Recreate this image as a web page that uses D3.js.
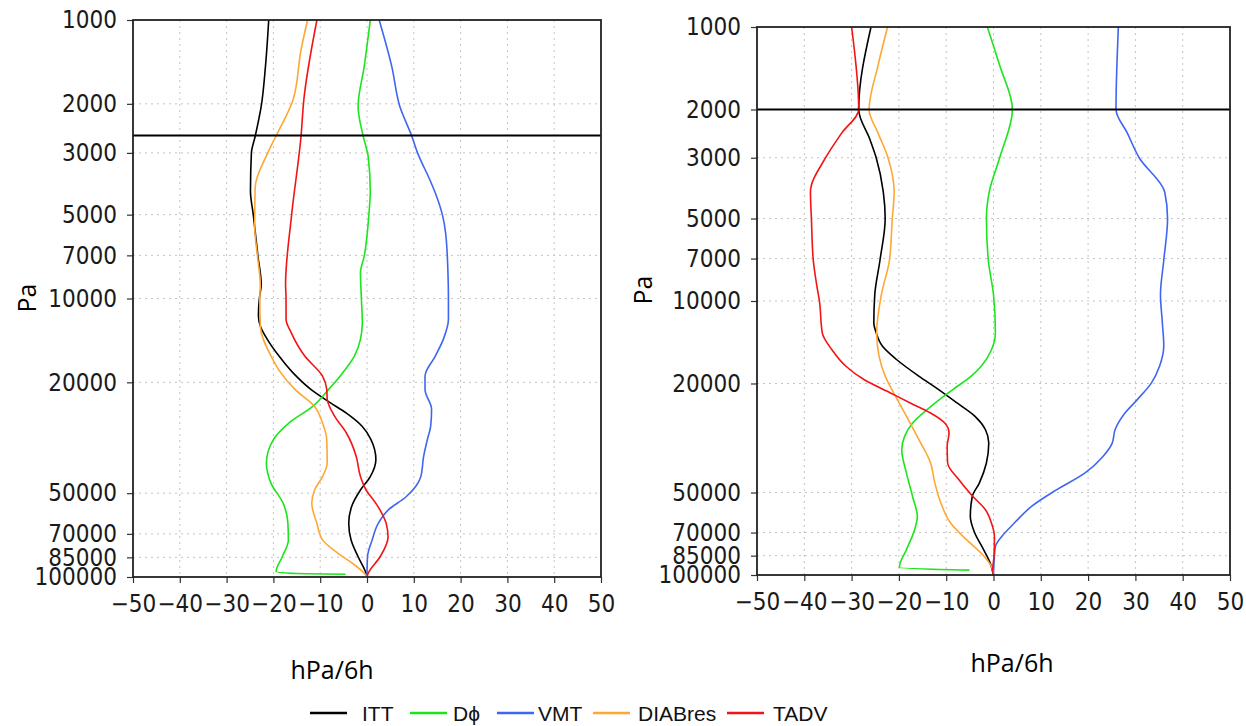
<!DOCTYPE html>
<html>
<head>
<meta charset="utf-8">
<script src="https://cdn.jsdelivr.net/npm/d3@7"></script>
<style>
  body { margin: 0; background: #fff; }
  svg { display: block; }
</style>
</head>
<body>
<svg id="chart" width="1246" height="726"></svg>
<script>
// axis ticks
const xTicks = [-50, -40, -30, -20, -10, 0, 10, 20, 30, 40, 50];
const yTicks = [1000, 2000, 3000, 5000, 7000, 10000, 20000, 50000, 70000, 85000, 100000];

const seriesNames = ["ITT", "D\u03D5", "VMT", "DIABres", "TADV"];
const seriesColors = ["#000000", "#1be61b", "#3f66f2", "#ffa733", "#f21414"];

// left panel profiles: [pressure (Pa), tendency (hPa/6h)]
const leftITT = [[1000,-21],[1470,-21.7],[2040,-22.6],[2620,-23.9],[3000,-24.7],[4120,-24.9],[5000,-24.3],
  [7050,-23.3],[8900,-22.6],[10000,-23],[11500,-23.2],[12550,-22.8],[14020,-21.3],[16100,-18.8],[18500,-15.8],
  [21200,-12],[23700,-7.8],[25800,-4.4],[28800,-1],[32100,0.85],[37900,1.9],[43600,0.7],[48700,-1.4],
  [55900,-3.3],[64200,-3.9],[73600,-3.4],[84600,-1.9],[97000,-0.2],[100000,0]];
const leftDphi = [[1000,0.7],[1470,-0.6],[2040,-1.9],[2620,-0.8],[3090,0.25],[4120,0.7],[5000,0.4],[7050,-0.6],
  [8100,-1.4],[10000,-1.2],[12200,-1],[14020,-1.4],[16100,-2.7],[18500,-5.2],[21200,-8.2],[24400,-11.6],
  [28000,-16.7],[32100,-20],[39000,-21.5],[46100,-20.5],[54400,-17.9],[64200,-16.9],[73600,-16.8],
  [84600,-18.1],[95500,-19.4],[97200,-15],[97700,-4.6]];
const leftVMT = [[1000,2.6],[1470,5.3],[2040,7],[2620,9.6],[3000,10.8],[3740,13.4],[4180,14.6],[5000,16.1],
  [5820,16.8],[8100,17.3],[10000,17.4],[11870,17.4],[14020,16.3],[16100,14.6],[19000,12.4],[21200,12.4],
  [25000,13.8],[28800,13.6],[32100,12.9],[36900,12.1],[43600,11.5],[47300,10.4],[51600,8.3],[57500,4.5],
  [64200,2.4],[73600,1.1],[84600,0.1],[100000,0]];
const leftDIABres = [[1000,-12.7],[1280,-14.1],[1935,-15.8],[2620,-19.5],[3000,-21.2],[4000,-23.9],[5500,-24],
  [7050,-23.4],[8900,-22.8],[10000,-22.9],[12550,-22.8],[16100,-20.5],[18500,-18.4],[21200,-15.4],
  [24400,-11.2],[28000,-9.5],[32100,-8.6],[39000,-8.5],[43600,-9.5],[48700,-11.2],[54400,-11.8],
  [64200,-10.7],[73600,-9.5],[82400,-6.1],[89300,-3.1],[97000,-0.6],[100000,0]];
const leftTADV = [[1000,-10.7],[1935,-13.5],[2620,-14.1],[5000,-16.1],[8900,-17.4],[10000,-17.3],[11870,-17.3],
  [13260,-16.2],[16100,-13.3],[19000,-9.5],[21200,-8.6],[23000,-8.5],[26500,-6.9],[30400,-4.4],[36900,-2.3],
  [43600,-1.4],[48700,-0.2],[54400,1.9],[64200,4.1],[71800,4.5],[84600,2.8],[97000,0.25],[100000,0]];

// right panel profiles
const rightITT = [[1000,-25.9],[2000,-28.5],[2580,-26.1],[3000,-24.8],[4000,-23.3],[5000,-22.9],[7100,-24],
  [9470,-25.1],[12000,-25.3],[13060,-24.8],[14600,-23.5],[16350,-20.5],[18800,-15.8],[21050,-11.6],
  [23550,-7.7],[26350,-3.9],[29500,-1.7],[33000,-1],[39000,-1.5],[46200,-3],[51800,-4.5],[61200,-4.9],
  [70000,-4],[80800,-2.1],[90500,-0.7],[100000,0]];
const rightDphi = [[1000,-1.3],[1380,1.3],[2000,4],[3000,1.3],[4000,-0.9],[5000,-1.5],[7100,-1.1],[9470,0],
  [13060,0.4],[15030,-0.4],[17300,-2.6],[18800,-4.7],[21050,-8.6],[24300,-13.3],[27900,-17.1],[31200,-18.8],
  [34900,-19.4],[42500,-18.4],[51800,-17.1],[61200,-16.1],[68500,-16.7],[80800,-18.4],[93800,-19.9],
  [96000,-5.1]];
const rightVMT = [[1000,26.4],[2000,25.9],[2440,28.3],[3000,30.8],[4000,36.2],[5000,36.8],[7100,36],[9470,35.3],
  [12000,35.7],[14600,36],[17300,35.1],[19900,33.4],[22900,30.4],[25640,27.8],[29500,25.7],[33000,25.1],
  [37000,23.1],[42500,19.3],[48900,13.3],[56100,8.1],[64900,4.3],[72500,1.7],[78700,0.4],[85000,0.2],
  [100000,0]];
const rightDIABres = [[1000,-22.4],[1380,-24.4],[2000,-26.3],[2440,-24.4],[3000,-22.3],[4000,-21],[5000,-21.4],
  [7100,-22],[9470,-23.7],[13060,-24.7],[15900,-24.2],[18800,-22.9],[21650,-21.1],[26350,-18.4],
  [32000,-15.8],[39000,-13.3],[46200,-12.4],[54800,-11.1],[64900,-9],[74600,-5.6],[83300,-2.6],
  [93400,-0.4],[100000,0]];
const rightTADV = [[1000,-30],[2000,-28.5],[2440,-32.1],[3000,-35.5],[4000,-38.7],[5000,-38.5],[7100,-38.1],
  [8700,-37.4],[10000,-36.8],[13060,-36.2],[15030,-34.2],[17300,-31.2],[19350,-27.4],[21650,-21.8],
  [23550,-17.6],[25640,-13.3],[27900,-10.3],[30300,-9.4],[33900,-9.8],[39000,-9.7],[44900,-7.3],
  [51800,-4.3],[57800,-1.7],[64900,-0.4],[72500,0.2],[85800,0.1],[96000,-0.2],[100000,0]];

// horizontal reference levels (Pa)
const leftRefLevel = 2600;
const rightRefLevel = 2000;

const svg = d3.select("#chart");
const tickFont = "'DejaVu Sans Condensed', 'DejaVu Sans', sans-serif";
const titleFont = "'Open Sans', 'Noto Sans', sans-serif";

function drawPanel(p) {
    const x = d3.scaleLinear().domain([-50, 50]).range([p.left, p.right]);
    const y = d3.scaleLog().domain([1000, 100000]).range([p.top, p.bottom]);
    const g = svg.append("g");

    // dotted grid
    g.append("g").selectAll("line").data(xTicks.slice(1, -1)).join("line")
        .attr("x1", d => x(d)).attr("x2", d => x(d))
        .attr("y1", p.top).attr("y2", p.bottom)
        .attr("stroke", "#c4c4c4").attr("stroke-dasharray", "2,4");
    g.append("g").selectAll("line").data(yTicks.slice(1, -1)).join("line")
        .attr("x1", p.left).attr("x2", p.right)
        .attr("y1", d => y(d)).attr("y2", d => y(d))
        .attr("stroke", "#c4c4c4").attr("stroke-dasharray", "2,4");

    // axes
    const yAxis = g.append("g")
        .attr("transform", `translate(${p.left},0)`)
        .call(d3.axisLeft(y).tickValues(yTicks).tickFormat(d3.format("d")).tickSize(6).tickPadding(10));
    const xAxis = g.append("g")
        .attr("transform", `translate(0,${p.bottom})`)
        .call(d3.axisBottom(x).tickValues(xTicks).tickSize(6).tickPadding(12));
    [yAxis, xAxis].forEach(a => {
        a.select(".domain").remove();
        a.attr("font-family", tickFont).attr("font-size", 24);
        a.selectAll("line").attr("stroke", "#333").attr("stroke-width", 1.2);
        a.selectAll("text").attr("fill", "#1a1a1a");
    });

    // profiles
    const line = d3.line()
        .x(d => x(d[1]))
        .y(d => y(d[0]))
        .curve(d3.curveMonotoneY);
    p.series.forEach((s, i) => {
        g.append("path")
            .datum(s)
            .attr("fill", "none")
            .attr("stroke", seriesColors[i])
            .attr("stroke-width", 1.6)
            .attr("d", line);
    });

    // reference level
    g.append("line")
        .attr("x1", p.left).attr("x2", p.right)
        .attr("y1", y(p.ref)).attr("y2", y(p.ref))
        .attr("stroke", "#000").attr("stroke-width", 2);

    // frame
    g.append("rect")
        .attr("x", p.left).attr("y", p.top)
        .attr("width", p.right - p.left).attr("height", p.bottom - p.top)
        .attr("fill", "none").attr("stroke", "#222").attr("stroke-width", 1.8);

    // titles
    g.append("text")
        .attr("transform", `translate(${p.yTitle[0]},${p.yTitle[1]}) rotate(-90)`)
        .attr("text-anchor", "middle")
        .attr("font-family", titleFont).attr("font-size", 25)
        .text("Pa");
    g.append("text")
        .attr("x", p.xTitle[0]).attr("y", p.xTitle[1])
        .attr("text-anchor", "middle")
        .attr("font-family", titleFont).attr("font-size", 25)
        .text("hPa/6h");
}

drawPanel({
    left: 133, right: 601, top: 20, bottom: 577,
    series: [leftITT, leftDphi, leftVMT, leftDIABres, leftTADV],
    ref: leftRefLevel,
    yTitle: [36, 298], xTitle: [332, 679]
});

drawPanel({
    left: 757, right: 1230, top: 27, bottom: 575,
    series: [rightITT, rightDphi, rightVMT, rightDIABres, rightTADV],
    ref: rightRefLevel,
    yTitle: [652, 290], xTitle: [1012, 672]
});

// legend (line start / label start for each entry)
const legendLineX = [310, 410, 497, 593, 727];
const legendTextX = [362, 453, 538, 638, 773];
const legend = svg.append("g").attr("font-family", "'Liberation Sans', Arial, sans-serif").attr("font-size", 21);
seriesNames.forEach((name, i) => {
    legend.append("line")
        .attr("x1", legendLineX[i]).attr("x2", legendLineX[i] + 37)
        .attr("y1", 713).attr("y2", 713)
        .attr("stroke", seriesColors[i]).attr("stroke-width", 2.5);
    legend.append("text")
        .attr("x", legendTextX[i]).attr("y", 721)
        .attr("fill", "#111")
        .text(name);
});
</script>
</body>
</html>
